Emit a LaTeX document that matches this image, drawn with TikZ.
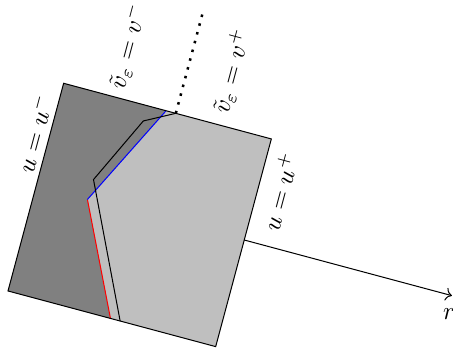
\documentclass[tikz,border=0pt]{standalone}
\usetikzlibrary{arrows.meta}
\begin{document}
\begin{tikzpicture}[
  lbl/.style={rotate=75, inner sep=1pt},
  dotline/.style={line width=1pt, dash pattern=on 1pt off 2.6pt}
]
\useasboundingbox (-0.1116,-0.795) rectangle (6.209,4.060);
\begin{scope}[rotate=-15]
\coordinate (A) at (0,0);
\coordinate (B) at (3,0);
\coordinate (C) at (3,3);
\coordinate (D) at (0,3);
\coordinate (P) at (1.48,3);
\coordinate (Q) at (0.74,1.52);
\coordinate (R) at (1.48,0);
\coordinate (K1) at (1.62,3);
\coordinate (K2) at (1.21,2.78);
\coordinate (K3) at (0.75,1.81);
\coordinate (K4) at (1.62,0);
\coordinate (T) at (1.62,4.47);
\coordinate (S) at (3,1.54);
\coordinate (E) at (6.0,1.54);
\fill[lightgray] (A) -- (B) -- (C) -- (D) -- cycle;
\fill[gray] (A) -- (R) -- (Q) -- (P) -- (D) -- cycle;
\draw[red] (R) -- (Q);
\draw[blue] (Q) -- (P);
\draw (K1) -- (K2) -- (K3) -- (K4);
\draw (A) -- (B) -- (C) -- (D) -- cycle;
\draw[dotline] (K1) -- (T);
\draw[->] (S) -- (E);
\node[lbl] (lum) at (-0.22,2.22) {$u=u^-$};
\node[lbl] (lvm) at (0.73,3.73) {$\tilde{v}_\varepsilon=v^-$};
\node[lbl] (lvp) at (2.22,3.77) {$\tilde{v}_\varepsilon=v^+$};
\node[lbl] (lup) at (3.30,2.32) {$u=u^+$};
\node (lr) at (6.03,1.28) {$r$};
\end{scope}
\end{tikzpicture}
\end{document}
